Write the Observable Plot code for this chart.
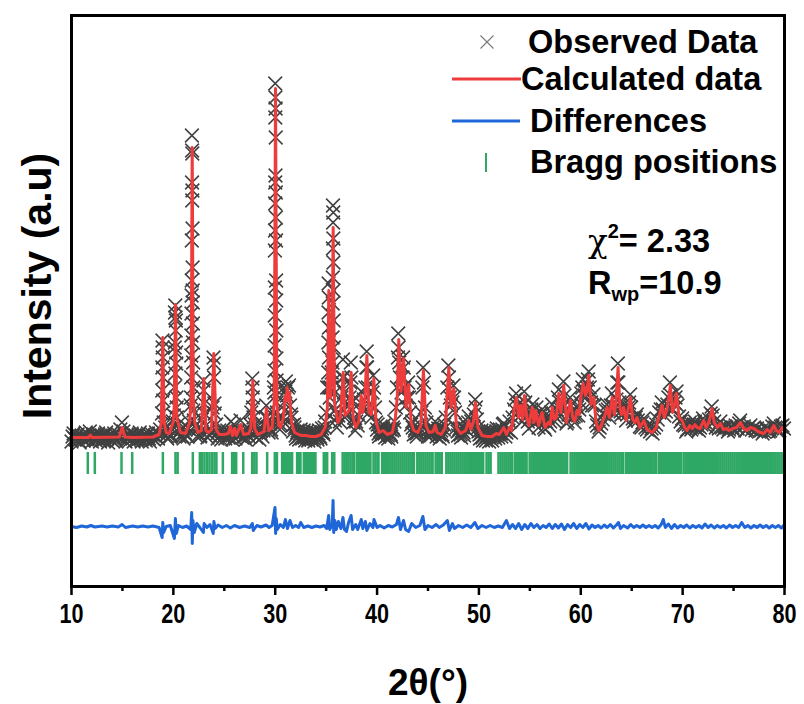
<!DOCTYPE html>
<html>
<head>
<meta charset="utf-8">
<script src="https://cdn.jsdelivr.net/npm/d3@7"></script>
<script src="https://cdn.jsdelivr.net/npm/@observablehq/plot@0.6"></script>
<style>
  html, body { margin: 0; padding: 0; background: #ffffff; }
  svg { display: block; }
  g[aria-label="x-axis tick label"] text { font-family: "Liberation Sans", Arial, sans-serif; font-weight: bold; font-size: 27px; fill: #000; }
</style>
</head>
<body>
<div id="chart"></div>
<script>
// ---- Data (2θ in degrees, intensity in arbitrary units) ----
const xTicks = [10, 20, 30, 40, 50, 60, 70, 80];
const xMinorTicks = [15, 25, 35, 45, 55, 65, 75];

// Calculated profile
const calculated = [
[10.0,100],[11.7,100],[11.85,125],[12.0,100],[14.7,105],[14.97,200],[15.25,105],[16.0,100],[18.0,105],[18.6,130],
[18.82,250],[18.96,1100],[19.1,250],[19.3,150],[19.6,140],[20.0,260],[20.08,400],[20.21,1430],[20.34,300],[20.7,150],
[21.2,140],[21.6,250],[21.74,500],[21.85,3000],[21.96,500],[22.1,250],[22.4,150],[22.75,170],[22.99,690],[23.2,170],
[23.45,150],[23.75,180],[23.97,940],[24.2,180],[24.5,130],[25.0,130],[25.4,140],[25.6,210],[25.8,120],[26.0,190],
[26.2,120],[26.6,230],[26.9,130],[27.4,140],[27.62,200],[27.8,670],[27.98,190],[28.3,130],[28.9,160],[29.14,390],
[29.35,170],[29.7,200],[29.9,450],[30.03,3590],[30.16,450],[30.35,220],[30.55,200],[30.8,300],[31.0,520],[31.1,470],
[31.17,600],[31.28,470],[31.4,550],[31.6,250],[31.9,150],[32.3,130],[32.6,120],[33.0,120],[33.5,110],[34.0,110],
[34.5,130],[34.9,200],[35.12,400],[35.26,1570],[35.42,500],[35.56,700],[35.69,2200],[35.82,450],[36.15,250],[36.4,300],
[36.67,750],[36.85,320],[37.1,350],[37.25,370],[37.46,750],[37.65,300],[37.9,200],[38.2,260],[38.44,520],[38.6,350],
[38.78,450],[39.0,920],[39.2,350],[39.45,330],[39.68,690],[39.9,260],[40.2,150],[40.6,170],[41.0,130],[41.5,150],
[41.8,300],[41.98,500],[42.13,1080],[42.35,560],[42.6,890],[42.85,400],[43.1,630],[43.35,250],[43.6,170],[44.0,150],
[44.3,220],[44.55,770],[44.8,220],[45.1,150],[45.5,160],[45.7,220],[45.9,150],[46.3,130],[46.7,200],[47.04,800],
[47.25,400],[47.53,590],[47.8,200],[48.2,140],[48.7,170],[49.0,270],[49.2,180],[49.45,250],[49.66,450],[49.9,200],
[50.3,120],[50.8,110],[51.3,110],[51.7,140],[52.0,130],[52.44,200],[52.7,130],[53.0,200],[53.2,170],[53.45,380],
[53.69,500],[53.9,300],[54.1,420],[54.3,280],[54.47,520],[54.7,300],[54.9,220],[55.23,400],[55.4,250],[55.6,370],
[55.85,220],[56.2,350],[56.5,200],[56.8,250],[57.0,230],[57.19,400],[57.4,280],[57.6,300],[57.84,540],[58.05,350],
[58.33,620],[58.6,250],[58.99,470],[59.2,300],[59.4,260],[59.65,370],[59.85,330],[60.0,500],[60.23,640],[60.45,520],
[60.6,560],[60.79,720],[61.0,430],[61.28,500],[61.5,250],[61.77,170],[62.0,220],[62.3,300],[62.59,400],[62.8,300],
[63.08,500],[63.3,330],[63.45,450],[63.66,800],[63.85,400],[64.0,330],[64.22,400],[64.45,270],[64.65,380],[64.88,500],
[65.1,280],[65.3,250],[65.53,300],[65.8,200],[66.19,270],[66.5,180],[67.0,150],[67.4,200],[67.7,320],[67.98,420],
[68.2,300],[68.5,400],[68.8,620],[69.0,350],[69.2,420],[69.4,540],[69.65,300],[69.95,270],[70.2,200],[70.44,170],
[70.7,220],[70.95,190],[71.2,230],[71.42,200],[71.7,190],[72.07,270],[72.3,200],[72.6,260],[72.89,390],[73.1,250],
[73.4,200],[73.71,240],[74.0,180],[74.3,190],[74.53,170],[74.9,190],[75.3,200],[75.67,250],[76.0,190],[76.3,170],
[76.66,200],[77.0,190],[77.4,160],[77.97,140],[78.3,180],[78.6,150],[78.95,220],[79.2,170],[79.5,150],[79.77,200],[80.0,170]
];

// Observed data points
const observed = [
[10.0,60],[10.1,110],[10.2,140],[10.3,90],[10.4,80],[10.5,120],[10.6,130],[10.7,70],[10.8,50],[10.9,110],[11.0,120],
[11.1,90],[11.2,70],[11.3,130],[11.4,150],[11.5,80],[11.6,90],[11.7,120],[11.8,160],[11.9,100],[12.0,60],[12.1,110],
[12.2,130],[12.3,80],[12.4,70],[12.5,120],[12.6,140],[12.7,90],[12.8,60],[12.9,110],[13.0,120],[13.1,70],[13.2,80],
[13.3,130],[13.4,150],[13.5,90],[13.6,50],[13.7,100],[13.8,130],[13.9,80],[14.0,70],[14.1,120],[14.2,140],[14.3,90],
[14.4,60],[14.5,110],[14.6,130],[14.7,100],[14.8,180],[14.95,250],[15.1,160],[15.2,110],[15.3,60],[15.4,100],[15.5,130],
[15.6,90],[15.7,70],[15.8,120],[15.9,140],[16.0,90],[16.1,60],[16.2,110],[16.3,120],[16.4,70],[16.5,80],[16.6,130],
[16.7,150],[16.8,90],[16.9,60],[17.0,110],[17.1,130],[17.2,80],[17.3,70],[17.4,120],[17.5,140],[17.6,90],[17.7,60],
[17.8,110],[17.9,130],[18.0,90],[18.1,80],[18.2,120],[18.3,150],[18.4,100],[18.5,90],[18.6,140],[18.7,180],
[18.93,1070],[18.95,1000],[18.97,900],[18.92,800],[18.99,700],[18.91,570],[19.01,470],[18.89,340],[19.05,250],
[19.2,200],[19.3,120],[19.4,90],[19.5,150],[19.6,180],[19.7,110],[19.8,120],[19.95,260],
[20.05,320],[20.1,600],[20.13,1000],[20.16,1350],[20.19,1420],[20.21,1300],[20.23,1170],[20.25,1270],[20.27,950],
[20.29,840],[20.15,1050],[20.2,740],[20.3,500],[20.33,400],[20.36,300],
[20.45,230],[20.55,150],[20.6,110],[20.7,170],[20.8,190],[20.9,110],[21.0,90],[21.1,150],[21.2,180],[21.3,120],
[21.4,110],[21.5,190],[21.55,260],[21.7,420],
[21.82,3120],[21.84,2970],[21.86,2940],[21.83,2650],[21.87,2570],[21.85,2470],[21.88,2190],[21.81,2070],[21.89,1800],
[21.8,1670],[21.9,1570],[21.79,1520],[21.91,1450],[21.78,1340],[21.92,1240],[21.77,1120],[21.93,1050],[21.76,920],
[21.94,850],[21.75,700],[21.95,600],[21.73,500],[21.97,370],[22.0,270],
[22.15,220],[22.3,110],[22.4,180],[22.5,200],[22.6,110],[22.65,120],[22.8,280],[22.95,670],[22.98,570],[23.02,440],[23.05,340],
[23.2,220],[23.3,150],[23.35,100],[23.5,190],[23.6,120],[23.7,150],[23.85,400],[23.94,900],[23.97,840],[24.0,700],[24.03,440],[24.06,340],
[24.2,230],[24.3,140],[24.35,90],[24.5,170],[24.6,120],[24.7,80],[24.8,140],[24.9,180],[25.0,120],[25.1,90],[25.2,150],[25.3,170],
[25.4,100],[25.5,150],[25.65,260],[25.8,80],[25.9,150],[25.95,230],[26.1,90],[26.2,150],[26.3,160],[26.45,120],
[26.6,270],[26.75,100],[26.85,150],[26.9,170],[27.0,110],[27.1,80],[27.25,170],[27.3,130],[27.4,110],[27.5,170],
[27.55,230],[27.65,350],[27.75,690],[27.78,600],[27.8,500],[27.83,400],[27.86,300],
[28.0,230],[28.1,150],[28.15,100],[28.25,160],[28.3,180],[28.45,80],[28.55,140],[28.6,170],[28.75,110],[28.85,170],
[28.9,220],[29.05,300],[29.12,420],[29.2,300],[29.3,200],[29.35,150],[29.5,240],[29.6,180],[29.65,150],[29.78,320],[29.87,600],
[30.0,3640],[30.02,3500],[30.04,3390],[30.01,3300],[30.05,3100],[30.03,2720],[30.0,2650],[30.06,2550],[29.99,2440],
[30.07,2300],[29.98,2170],[30.08,2070],[29.97,1970],[30.09,1670],[29.96,1600],[30.1,1470],[29.95,1320],[30.11,1170],
[29.94,1020],[30.12,890],[29.93,770],[30.13,670],[29.92,550],[30.15,450],[30.17,350],[30.2,270],
[30.3,300],[30.4,220],[30.45,180],[30.55,230],[30.6,280],[30.75,300],[30.85,450],[30.9,600],[31.0,560],[31.05,660],[31.15,520],
[31.25,600],[31.35,620],[31.45,420],[31.55,330],[31.6,300],[31.7,220],[31.75,160],[31.85,230],[31.9,200],[32.0,120],
[32.05,90],[32.15,150],[32.2,170],[32.3,110],[32.35,80],[32.45,140],[32.5,180],[32.6,110],[32.65,90],[32.75,150],
[32.8,170],[32.9,100],[32.95,70],[33.05,130],[33.1,160],[33.2,100],[33.25,70],[33.35,120],[33.4,150],[33.5,100],
[33.55,80],[33.65,140],[33.7,160],[33.8,90],[33.85,60],[33.95,120],[34.0,150],[34.1,100],[34.15,80],[34.25,140],
[34.3,170],[34.4,110],[34.45,90],[34.55,150],[34.6,190],[34.7,150],[34.75,130],[34.85,200],[34.9,260],[35.0,350],[35.1,600],
[35.24,1640],[35.26,1500],[35.23,1350],[35.28,1200],[35.22,1050],[35.29,900],[35.21,750],[35.3,600],
[35.35,500],[35.45,600],[35.55,750],
[35.67,2420],[35.7,2350],[35.68,2250],[35.71,2090],[35.66,1990],[35.72,1850],[35.65,1700],[35.73,1570],[35.64,1440],
[35.74,1270],[35.63,1100],[35.75,1000],[35.62,850],[35.77,670],[35.79,540],[35.82,370],[35.86,270],
[35.95,380],[36.05,200],[36.2,320],[36.35,260],[36.5,500],[36.6,700],[36.65,880],[36.7,700],[36.75,550],[36.85,300],
[36.95,430],[37.05,330],[37.15,420],[37.3,500],[37.38,650],[37.42,850],[37.48,700],[37.55,450],[37.65,250],[37.75,300],
[37.85,170],[37.95,260],[38.1,220],[38.2,320],[38.35,450],[38.45,560],[38.55,380],[38.7,480],[38.85,600],[38.95,800],
[38.98,960],[39.03,800],[39.1,600],[39.2,350],[39.3,420],[39.45,300],[39.55,550],[39.62,720],[39.7,600],[39.8,400],
[39.9,250],[40.0,180],[40.05,230],[40.15,140],[40.2,110],[40.3,170],[40.35,210],[40.45,150],[40.5,130],[40.6,190],[40.65,220],
[40.75,140],[40.8,100],[40.9,160],[40.95,190],[41.05,120],[41.1,90],[41.2,150],[41.25,180],[41.35,130],
[41.4,110],[41.5,170],[41.55,200],[41.65,180],[41.7,260],[41.85,400],[41.95,600],[42.05,900],[42.08,1140],[42.12,1000],[42.18,850],[42.25,700],
[42.4,550],[42.5,700],[42.55,900],[42.62,800],[42.7,600],[42.8,420],[42.95,500],[43.05,650],[43.15,500],[43.25,350],
[43.35,230],[43.45,260],[43.5,200],[43.6,130],[43.7,170],[43.75,190],[43.85,140],[43.9,110],[44.0,150],[44.05,180],[44.2,230],[44.35,350],[44.45,600],[44.52,800],
[44.6,650],[44.7,400],[44.85,250],[44.95,170],[45.0,110],[45.1,150],[45.15,190],[45.25,150],[45.3,120],[45.4,170],[45.45,200],[45.6,170],[45.7,260],[45.8,160],[45.85,110],
[45.95,150],[46.0,190],[46.1,130],[46.15,90],[46.25,140],[46.3,170],[46.4,130],[46.45,110],[46.55,180],[46.6,230],[46.75,300],[46.9,600],[47.0,820],[47.06,700],[47.15,500],
[47.25,420],[47.4,450],[47.5,620],[47.56,500],[47.65,350],[47.8,200],[47.9,160],[47.95,120],[48.05,170],[48.1,190],[48.2,130],[48.25,100],[48.35,170],[48.4,200],
[48.5,150],[48.55,120],[48.65,190],[48.7,230],[48.85,170],[48.95,250],[49.0,310],[49.1,200],[49.25,260],[49.4,200],[49.5,330],[49.63,480],[49.7,400],
[49.8,280],[49.9,200],[49.95,160],[50.05,130],[50.1,90],[50.2,140],[50.25,170],[50.35,100],[50.4,70],[50.5,130],[50.55,160],[50.65,100],[50.7,70],[50.8,120],[50.85,150],
[50.95,100],[51.0,60],[51.1,120],[51.15,160],[51.25,100],[51.3,70],[51.4,120],[51.45,150],[51.55,120],[51.6,90],[51.7,160],[51.75,190],[51.85,130],[51.9,100],[52.0,150],[52.05,180],
[52.15,140],[52.2,110],[52.3,180],[52.35,230],[52.45,240],[52.55,160],[52.6,110],[52.7,150],
[52.75,180],[52.9,170],[53.0,260],[53.15,150],[53.3,300],[53.45,380],[53.55,480],[53.65,540],[53.75,420],[53.85,300],
[53.95,400],[54.05,450],[54.15,330],[54.25,260],[54.35,420],[54.45,560],[54.55,450],[54.65,320],[54.8,260],[54.9,190],
[55.05,300],[55.15,380],[55.25,430],[55.35,300],[55.45,240],[55.55,330],[55.65,400],[55.75,300],[55.85,200],[56.0,280],
[56.1,340],[56.2,380],[56.3,300],[56.4,200],[56.5,180],[56.6,260],[56.75,300],[56.9,220],[57.0,260],[57.1,350],
[57.2,430],[57.3,330],[57.45,260],[57.55,300],[57.65,380],[57.75,500],[57.85,580],[57.95,450],[58.05,380],[58.15,400],
[58.3,660],[58.4,520],[58.5,380],[58.6,240],[58.7,260],[58.8,330],[58.95,500],[59.05,420],[59.15,300],[59.3,310],
[59.4,250],[59.5,320],[59.65,400],[59.75,320],[59.85,380],[59.95,450],[60.05,540],[60.15,600],[60.2,680],[60.3,560],
[60.4,520],[60.5,550],[60.6,600],[60.7,680],[60.78,760],[60.88,600],[61.0,450],[61.1,420],[61.25,530],[61.35,420],
[61.5,260],[61.6,220],[61.75,160],[61.85,200],[62.0,240],[62.15,280],[62.3,330],[62.45,370],[62.55,430],[62.65,380],
[62.8,300],[62.95,420],[63.05,540],[63.15,420],[63.3,340],[63.4,400],[63.5,480],[63.58,650],[63.64,840],[63.7,650],
[63.8,450],[63.9,360],[64.0,330],[64.1,380],[64.2,430],[64.3,350],[64.45,270],[64.55,330],[64.65,400],[64.75,450],
[64.85,530],[64.95,400],[65.1,290],[65.2,260],[65.3,270],[65.4,300],[65.5,330],[65.6,270],[65.8,210],[65.95,200],
[66.05,250],[66.2,290],[66.35,200],[66.5,180],[66.65,220],[66.8,160],[66.95,190],[67.05,140],[67.2,200],[67.4,230],
[67.55,280],[67.7,350],[67.85,380],[67.95,450],[68.05,380],[68.2,320],[68.35,360],[68.5,430],[68.6,500],[68.75,650],
[68.85,520],[68.95,380],[69.05,380],[69.2,450],[69.3,500],[69.4,560],[69.5,420],[69.65,310],[69.8,260],[69.95,290],
[70.05,230],[70.2,220],[70.35,160],[70.45,180],[70.6,230],[70.7,250],[70.85,180],[70.95,200],[71.1,230],[71.2,260],
[71.3,190],[71.45,220],[71.6,170],[71.7,200],[71.85,230],[72.0,290],[72.1,260],[72.3,210],[72.45,230],[72.6,280],
[72.75,340],[72.85,410],[72.95,320],[73.1,260],[73.25,200],[73.4,220],[73.55,190],[73.7,260],[73.85,200],[74.0,180],
[74.15,210],[74.3,200],[74.45,160],[74.55,180],[74.7,210],[74.9,200],[75.05,170],[75.2,220],[75.4,190],[75.55,240],
[75.65,270],[75.8,200],[76.0,210],[76.15,170],[76.3,180],[76.45,200],[76.65,220],[76.8,180],[77.0,200],[77.15,170],
[77.3,190],[77.5,160],[77.7,170],[77.85,140],[78.0,160],[78.15,190],[78.3,190],[78.45,160],[78.6,170],[78.8,210],
[78.95,240],[79.1,200],[79.2,190],[79.35,160],[79.5,170],[79.65,210],[79.8,220],[79.95,190]
];

// Difference (observed - calculated), plotted around an offset baseline
const diffOffset = -790;
const differences = [
[10,0],[10.5,-10],[11,5],[11.5,-5],[11.9,10],[12.3,-5],[13,5],[13.5,-5],[14,5],[14.6,-5],[14.97,20],[15.3,-10],
[16,5],[16.5,-5],[17,5],[17.5,-5],[18,5],[18.6,-10],[18.9,-110],[18.96,40],[19.05,-60],[19.3,0],[19.7,10],[20.1,-120],
[20.2,80],[20.28,-70],[20.5,10],[20.9,-10],[21.3,5],[21.7,-30],[21.8,140],[21.86,-170],[21.92,60],[22.05,-60],[22.3,30],
[22.6,-10],[22.95,-60],[23.02,30],[23.3,-10],[23.6,20],[23.92,-70],[23.98,50],[24.1,-20],[24.4,15],[24.8,-10],[25.2,10],
[25.6,-15],[26.0,10],[26.5,-10],[27.0,5],[27.5,-10],[27.75,30],[27.85,-40],[28.2,10],[28.6,-5],[29.1,15],[29.4,-10],
[29.7,10],[29.98,190],[30.04,-70],[30.1,80],[30.2,-30],[30.5,20],[30.8,-10],[31.0,70],[31.2,-20],[31.45,60],[31.7,-10],
[32.0,10],[32.3,-10],[32.5,40],[32.8,-10],[33.2,5],[33.6,-10],[34.0,5],[34.4,-5],[34.8,10],[35.05,-20],[35.25,110],
[35.35,-30],[35.6,20],[35.68,260],[35.74,-60],[35.85,60],[36.0,-30],[36.2,50],[36.45,-20],[36.65,90],[36.8,-30],[37.0,-50],
[37.2,40],[37.45,110],[37.6,-30],[37.9,20],[38.1,-30],[38.45,70],[38.6,-20],[38.85,50],[39.0,-40],[39.3,30],[39.6,-10],
[39.7,70],[40.0,-10],[40.3,10],[40.7,-15],[41.1,10],[41.5,-5],[41.9,20],[42.1,90],[42.3,-30],[42.6,60],[42.8,-30],
[43.1,-50],[43.4,30],[43.8,-10],[44.2,10],[44.5,100],[44.7,-30],[45.0,10],[45.4,-10],[45.8,20],[46.1,-10],[46.5,15],
[46.9,60],[47.1,-40],[47.4,30],[47.6,-20],[48.0,10],[48.4,-10],[48.8,15],[49.2,-10],[49.6,40],[49.9,-20],[50.3,10],
[50.7,-10],[51.1,10],[51.5,-10],[51.9,5],[52.3,-10],[52.7,60],[53.0,-20],[53.3,20],[53.6,-20],[53.9,30],[54.2,-30],
[54.5,20],[54.8,-20],[55.1,30],[55.4,-10],[55.7,20],[56.0,-20],[56.3,10],[56.6,-10],[56.9,25],[57.2,-20],[57.5,20],
[57.8,-15],[58.1,25],[58.4,-30],[58.7,20],[59.0,-10],[59.3,30],[59.6,-20],[59.9,20],[60.2,-10],[60.5,30],[60.8,-25],
[61.1,15],[61.4,-10],[61.7,10],[62.0,-15],[62.3,15],[62.6,-10],[62.9,20],[63.2,-15],[63.5,15],[63.7,40],[63.9,-20],
[64.2,10],[64.6,-15],[64.9,20],[65.2,-10],[65.5,10],[65.8,-10],[66.1,15],[66.4,-10],[66.7,10],[67.0,-10],[67.3,10],
[67.6,-15],[67.9,20],[68.1,70],[68.3,-10],[68.6,25],[68.9,-20],[69.2,20],[69.5,-15],[69.8,10],[70.1,-10],[70.4,15],
[70.7,-15],[71.0,10],[71.3,-10],[71.6,10],[71.9,-15],[72.2,25],[72.5,-10],[72.8,15],[73.1,-15],[73.4,10],[73.7,-10],
[74.0,10],[74.3,-15],[74.6,15],[74.9,-10],[75.2,10],[75.5,-10],[75.8,40],[76.1,-10],[76.4,10],[76.7,-15],[77.0,10],
[77.3,-10],[77.6,15],[77.9,-10],[78.2,10],[78.5,-15],[78.8,10],[79.1,-10],[79.4,10],[79.7,-15],[80.0,20]
];

// Bragg reflection positions
const braggTop = -50, braggBottom = -270;
const braggPositions = [
11.6,12.29,14.91,15.96,18.97,20.21,20.42,21.91,22.6,22.83,23.06,23.32,23.55,23.81,24.04,24.23,24.86,25.77,25.97,26.17,
26.86,27.74,27.95,28.16,29.21,29.96,30.17,30.68,30.88,31.08,31.28,31.48,31.66,32.15,32.33,32.48,32.81,33.0,33.2,33.4,
33.6,33.8,33.95,34.77,34.95,35.1,35.59,35.8,
36.62,36.82,37.02,37.2,37.4,37.6,37.72,38.0,38.2,38.4,38.6,38.8,39.0,39.2,39.35,39.65,39.85,40.05,40.14,
40.5,40.7,40.9,41.1,41.3,41.5,41.7,41.9,42.1,42.3,42.5,42.7,42.9,43.1,43.3,43.5,43.62,
43.95,44.15,44.35,44.55,44.75,44.95,45.15,45.35,45.45,45.75,45.95,46.15,46.35,
46.8,47.0,47.2,47.4,47.6,47.8,48.0,48.2,48.4,48.6,48.8,49.0,49.2,49.4,49.6,49.8,50.0,50.2,50.42,
50.75,50.95,51.15,51.92,52.12,52.32,52.52,52.72,52.92,53.12,53.25,53.52,53.72,53.92,54.12,54.32,54.52,54.68,
54.98,55.18,55.38,55.58,55.78,55.98,56.18,56.38,56.58,56.78,56.98,57.18,57.38,57.58,57.78,57.98,58.18,58.38,58.58,58.66,
59.0,59.2,59.4,59.6,59.8,60.0,60.2,60.4,60.6,60.8,61.0,61.2,61.4,61.6,61.8,62.0,62.2,62.4,62.6,62.8,63.0,63.2,63.4,
63.6,63.8,64.0,64.14,
64.42,64.62,64.82,65.02,65.22,65.42,65.62,65.82,66.02,66.22,66.42,66.62,66.82,67.02,67.22,67.4,
67.66,67.86,68.06,68.26,68.46,68.66,68.86,69.06,69.26,69.46,69.66,69.85,
70.1,70.3,70.5,70.7,70.9,71.1,71.3,71.5,71.7,71.9,72.1,72.3,72.5,72.7,72.9,73.1,73.3,73.5,73.7,73.9,74.1,74.3,74.5,
74.7,74.9,75.1,75.3,75.5,75.7,75.9,76.1,76.3,76.5,76.7,76.9,77.1,77.3,77.5,77.7,77.9,78.1,78.3,78.5,78.7,78.9,79.1,
79.3,79.5,79.7,79.9
];

const legendItems = ["Observed Data", "Calculated data", "Differences", "Bragg positions"];
const chiSquared = "2.33";
const rwp = "10.9";

// ---- Chart ----
const boldSans = "'Liberation Sans', Arial, sans-serif";

const chart = Plot.plot({
  width: 804,
  height: 704,
  marginLeft: 71,
  marginRight: 20,
  marginTop: 15,
  marginBottom: 118,
  style: {background: "#ffffff", overflow: "visible"},
  x: {domain: [10, 80]},
  y: {domain: [-1390, 4320], axis: null},
  marks: [
    Plot.dot(observed, {x: d => d[0], y: d => d[1], symbol: "times", r: 6.3, stroke: "#404040", strokeWidth: 1.5}),
    Plot.line(calculated, {x: d => d[0], y: d => d[1], stroke: "#ee3b3b", strokeWidth: 3}),
    Plot.ruleX(braggPositions, {x: d => d, y1: braggTop, y2: braggBottom, stroke: "#2fa866", strokeWidth: 2.5}),
    Plot.line(differences, {x: d => d[0], y: d => d[1] + diffOffset, stroke: "#1f66d8", strokeWidth: 3}),
    Plot.frame({stroke: "#000", strokeWidth: 3}),
    Plot.axisX({ticks: xMinorTicks, tickSize: 5, tickFormat: () => "", strokeWidth: 2.5, label: null}),
    Plot.axisX({ticks: xTicks, tickSize: 9, tickPadding: 8, tickFormat: d => String(d), strokeWidth: 2.5, label: null}),
    Plot.text(["2θ(°)"], {frameAnchor: "bottom", dy: 108, fontSize: 37, fontWeight: "bold", fontFamily: boldSans, fill: "#000"}),
    Plot.text(["Intensity (a.u)"], {frameAnchor: "left", textAnchor: "middle", rotate: -90, dx: -34, dy: -15, fontSize: 41, fontWeight: "bold", fontFamily: boldSans, fill: "#000"})
  ]
});

document.getElementById("chart").appendChild(chart);

// condense bold sans tick labels horizontally to mimic a narrow bold face
function condense(selection, k) {
  selection.each(function () {
    const t = this.getAttribute("transform");
    if (t) {
      this.setAttribute("transform", t + ` scale(${k},1)`);
    } else {
      const x = +(this.getAttribute("x") || 0);
      this.setAttribute("x", x / k);
      this.setAttribute("transform", `scale(${k},1)`);
    }
  });
}
condense(d3.select(chart).selectAll('g[aria-label="x-axis tick label"] text'), 0.8);

// ---- Legend and statistics (drawn into the same SVG) ----
const svg = d3.select(chart);
const lg = svg.append("g").attr("font-family", boldSans).attr("font-weight", "bold").attr("font-size", 32.5).attr("fill", "#000").attr("text-anchor", "start");
lg.append("path").attr("d", d3.symbol(d3.symbolTimes, 112)()).attr("transform", "translate(487,42)").attr("stroke", "#777").attr("stroke-width", 1.1).attr("fill", "none");
lg.append("line").attr("x1", 452).attr("x2", 521).attr("y1", 79).attr("y2", 79).attr("stroke", "#ee3b3b").attr("stroke-width", 3);
lg.append("line").attr("x1", 452).attr("x2", 520).attr("y1", 121).attr("y2", 121).attr("stroke", "#1f66d8").attr("stroke-width", 3);
lg.append("line").attr("x1", 486).attr("x2", 486).attr("y1", 153).attr("y2", 172).attr("stroke", "#2fa866").attr("stroke-width", 2);
const rows = [[528, 53], [521, 90], [530, 132], [530, 173]];
legendItems.forEach((t, i) => {
  lg.append("text").attr("x", rows[i][0]).attr("y", rows[i][1]).text(t);
});
const t1 = lg.append("text").attr("x", 588).attr("y", 252);
t1.append("tspan").attr("font-family", "'DejaVu Serif', serif").attr("font-weight", "normal").text("χ");
t1.append("tspan").attr("font-size", 20).attr("dy", -14).text("2");
t1.append("tspan").attr("dy", 14).text("= " + chiSquared);
const t2 = lg.append("text").attr("x", 588).attr("y", 294);
t2.append("tspan").text("R");
t2.append("tspan").attr("font-size", 20).attr("dy", 7).text("wp");
t2.append("tspan").attr("dy", -7).text("=" + rwp);
</script>
</body>
</html>
